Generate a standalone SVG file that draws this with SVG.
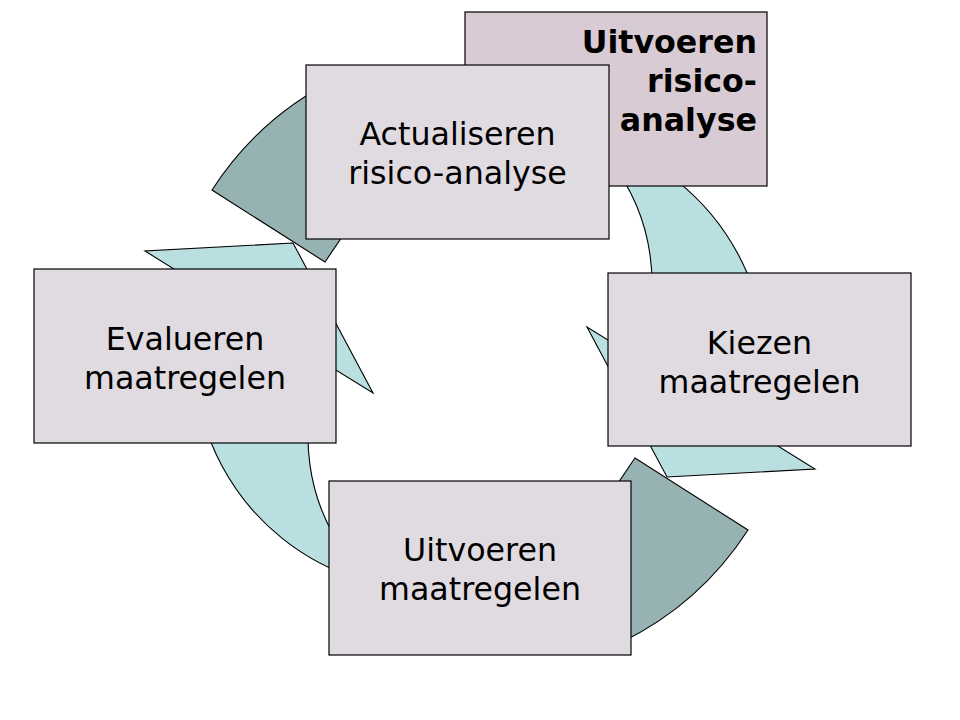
<svg xmlns="http://www.w3.org/2000/svg" width="960" height="720" viewBox="0 0 960 720">
<defs>
<style>
.box{fill:#e0dbe0;stroke:#000;stroke-width:1.2}
.boxhl{fill:#d8cbd3;stroke:#000;stroke-width:1.2}
.lbl{font-family:"DejaVu Sans","Verdana",sans-serif;font-size:31.7px;fill:#000;text-anchor:middle}
.bold{font-family:"DejaVu Sans","Verdana",sans-serif;font-size:31.7px;font-weight:bold;fill:#000;text-anchor:end}
.light{fill:#b9dfe0;stroke:#000;stroke-width:1.1;stroke-linejoin:miter}
.dark{fill:#96b2b2;stroke:#000;stroke-width:1.1}
</style>
<path id="lightArrow" d="M 600,140.4 A 235 235 0 0 1 756,432.3 L 815,469 L 667,477 L 587,327 L 637,358 A 198 198 0 0 0 610,160.6 Z"/>
<path id="darkHead" d="M 212,190 A 316 316 0 0 1 340,77 L 424,116 L 325,262 Z"/>
</defs>
<rect width="960" height="720" fill="#fff"/>
<g id="connectors">
<use href="#lightArrow" class="light"/>
<use href="#lightArrow" class="light" transform="rotate(180 480 360)"/>
<use href="#darkHead" class="dark"/>
<use href="#darkHead" class="dark" transform="rotate(180 480 360)"/>
</g>
<g id="uitvoeren-risico-analyse">
<rect class="boxhl" x="465" y="12" width="302" height="174"/>
<text class="bold" x="757" y="53">Uitvoeren</text>
<text class="bold" x="757" y="92">risico-</text>
<text class="bold" x="757" y="131">analyse</text>
</g>
<g id="actualiseren">
<rect class="box" x="306" y="65" width="303" height="174"/>
<text class="lbl" x="457.5" y="145">Actualiseren</text>
<text class="lbl" x="457.5" y="184">risico-analyse</text>
</g>
<g id="kiezen">
<rect class="box" x="608" y="273" width="303" height="173"/>
<text class="lbl" x="759.5" y="354">Kiezen</text>
<text class="lbl" x="759.5" y="393">maatregelen</text>
</g>
<g id="uitvoeren-maatregelen">
<rect class="box" x="329" y="481" width="302" height="174"/>
<text class="lbl" x="480" y="561">Uitvoeren</text>
<text class="lbl" x="480" y="600">maatregelen</text>
</g>
<g id="evalueren">
<rect class="box" x="34" y="269" width="302" height="174"/>
<text class="lbl" x="185" y="350">Evalueren</text>
<text class="lbl" x="185" y="389">maatregelen</text>
</g>
</svg>
